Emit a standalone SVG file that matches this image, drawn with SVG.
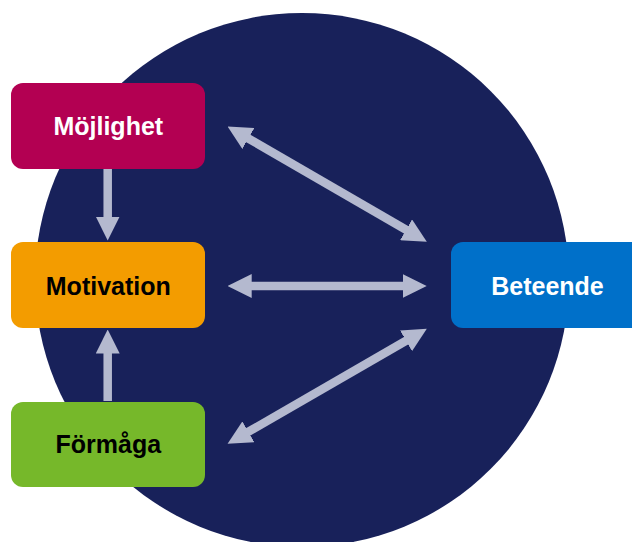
<svg xmlns="http://www.w3.org/2000/svg" width="632" height="542" viewBox="0 0 632 542">
<style>
.lbl{font-family:"Liberation Sans",Arial,sans-serif;font-weight:bold;font-size:25px;text-anchor:middle}
.w{fill:#ffffff}
.k{fill:#000000}
.conn line{stroke:#b4b9cf;stroke-width:8.5;fill:none}
</style>
<defs>
<marker id="ah" markerUnits="userSpaceOnUse" markerWidth="24" markerHeight="24" viewBox="0 0 24 24" refX="1" refY="12" orient="auto-start-reverse">
<path d="M0,0 L24,12 L0,24 z" fill="#b4b9cf"/>
</marker>
</defs>
<rect width="632" height="542" fill="#ffffff"/>
<circle id="bg" cx="302" cy="280" r="267" fill="#18215a"/>
<g class="conn">
<line x1="107.7" y1="168" x2="107.7" y2="217.5" marker-end="url(#ah)"/>
<line x1="107.7" y1="401" x2="107.7" y2="352.5" marker-end="url(#ah)"/>
<line x1="250.7" y1="286" x2="403.7" y2="286" marker-start="url(#ah)" marker-end="url(#ah)"/>
<line x1="247.5" y1="138" x2="406.9" y2="230.3" marker-start="url(#ah)" marker-end="url(#ah)"/>
<line x1="247.5" y1="432.3" x2="406.9" y2="340.3" marker-start="url(#ah)" marker-end="url(#ah)"/>
</g>
<g id="mojlighet">
<rect x="11" y="83" width="194" height="86" rx="12" fill="#b30052"/>
<text class="lbl w" x="108.3" y="135">Möjlighet</text>
</g>
<g id="motivation">
<rect x="11" y="242" width="194" height="86" rx="12" fill="#f39c00"/>
<text class="lbl k" x="108.3" y="295">Motivation</text>
</g>
<g id="formaga">
<rect x="11" y="402" width="194" height="85" rx="12" fill="#76b82a"/>
<text class="lbl k" x="108.3" y="453">Förmåga</text>
</g>
<g id="beteende">
<rect x="451" y="242" width="194" height="86" rx="12" fill="#0070c9"/>
<text class="lbl w" x="547.5" y="294.5">Beteende</text>
</g>
</svg>
